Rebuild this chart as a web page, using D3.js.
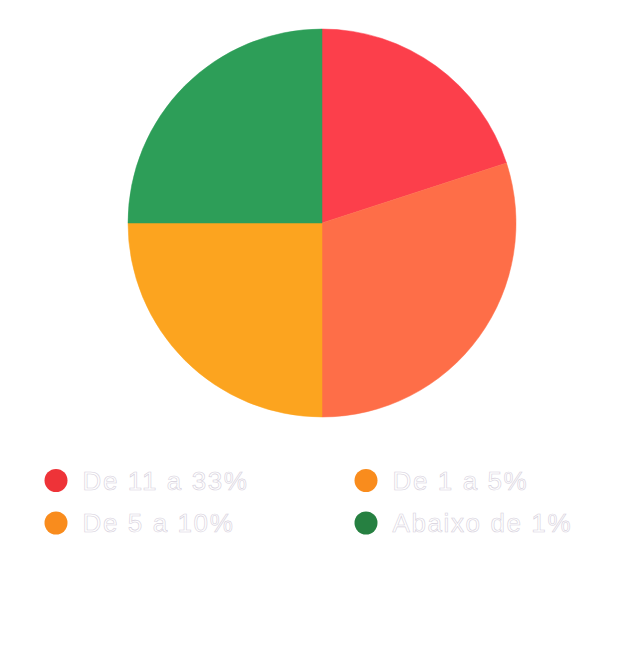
<!DOCTYPE html>
<html>
<head>
<meta charset="utf-8">
<script src="https://d3js.org/d3.v7.min.js"></script>
<style>
  body { margin: 0; background: #fff; }
  .leg-text {
    font-family: "Liberation Sans", Arial, sans-serif;
    font-size: 26px;
    letter-spacing: 1.6px;
    fill: #fff;
    stroke: #d6d0dc;
    stroke-width: 0.6;
  }
</style>
</head>
<body>
<script>
// slice values (counts), pie runs clockwise from 12 o'clock
var sliceNames  = ["De 11 a 33%", "De 1 a 5%", "De 5 a 10%", "Abaixo de 1%"];
var sliceValues = [4, 6, 5, 5];
var sliceColors = ["#fc3f4b", "#fe6e48", "#fca41f", "#2d9e58"];

// legend (row-wise, two columns)
var legendLabels = ["De 11 a 33%", "De 1 a 5%", "De 5 a 10%", "Abaixo de 1%"];
var legendColors = ["#ee3338", "#f98c1d", "#f98c1d", "#268041"];

var width = 641, height = 649;
var cx = 322, cy = 223, radius = 194;

var svg = d3.select("body").append("svg")
  .attr("width", width)
  .attr("height", height);

var pie = d3.pie().sort(null).value(function (d) { return d; });
var arc = d3.arc().innerRadius(0).outerRadius(radius);

var g = svg.append("g").attr("transform", "translate(" + cx + "," + cy + ")");

g.selectAll("path")
  .data(pie(sliceValues))
  .enter().append("path")
  .attr("d", arc)
  .attr("fill", function (d, i) { return sliceColors[i]; })
  .attr("stroke", function (d, i) { return sliceColors[i]; })
  .attr("stroke-width", 0.5);

// legend
var colX = d3.scalePoint().domain([0, 1]).range([56, 366]);
var rowY = d3.scalePoint().domain([0, 1]).range([480.5, 523]);

var item = svg.selectAll(".leg")
  .data(legendLabels)
  .enter().append("g")
  .attr("class", "leg")
  .attr("transform", function (d, i) {
    return "translate(" + colX(i % 2) + "," + rowY(Math.floor(i / 2)) + ")";
  });

item.append("circle")
  .attr("r", 11.5)
  .attr("fill", function (d, i) { return legendColors[i]; });

item.append("text")
  .attr("class", "leg-text")
  .attr("x", 26.5)
  .attr("y", 9)
  .text(function (d) { return d; });
</script>
</body>
</html>
